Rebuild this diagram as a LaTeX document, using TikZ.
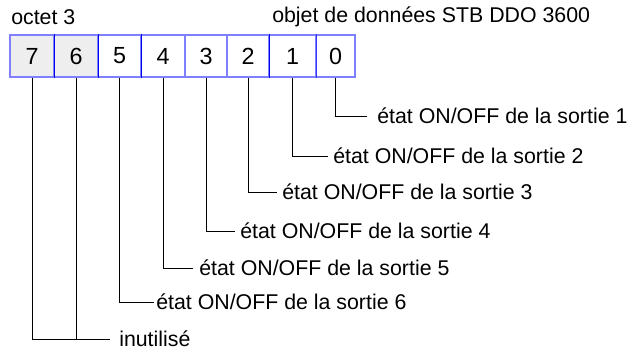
\documentclass[tikz,border=0pt]{standalone}
\usepackage{fontspec}
\setmainfont{Liberation Sans}
\definecolor{lightblue}{HTML}{8080FF}
\definecolor{darkblue}{HTML}{0000F0}
\definecolor{cellgray}{HTML}{EEEEEE}
\begin{document}
\begin{tikzpicture}[x=0.75pt,y=-0.75pt,
  txt/.style={font=\fontsize{16}{19}\selectfont, inner sep=0pt},
  lbl/.style={txt, anchor=west},
  cellbox/.style={draw=lightblue, line width=0.9pt, minimum height=31.5pt, inner sep=0pt, font=\fontsize{17.5}{20}\selectfont},
  conn/.style={draw=black, line width=0.6pt}]
\useasboundingbox (0,0) rectangle (637,353);
% title texts
\node[lbl] (oct) at (11,17) {octet 3};
\node[lbl] (obj) at (272,17) {objet de données STB DDO 3600};
% cells
\node[cellbox, fill=cellgray, minimum width=33pt] (c7) at (32,56) {7};
\node[cellbox, fill=cellgray, minimum width=33pt] (c6) at (76,56) {6};
\node[cellbox, minimum width=32.25pt] (c5) at (119.5,56) {5};
\node[cellbox, minimum width=33pt] (c4) at (163,56) {\raisebox{-2.5pt}{4}};
\node[cellbox, minimum width=31.5pt] (c3) at (206,56) {3};
\node[cellbox, minimum width=31.5pt] (c2) at (248,56) {2};
\node[cellbox, minimum width=35.25pt] (c1) at (292.5,56) {1};
\node[cellbox, minimum width=29.25pt] (c0) at (335.5,56) {0};
% darker separators
\foreach \c in {c7,c6,c5,c2}
  \draw[darkblue, line width=1pt] (\c.north east) -- (\c.south east);
\draw[blue!80, line width=0.9pt] (c1.north east) -- (c1.south east);
% labels
\node[lbl] (l1) at (377,116) {état ON/OFF de la sortie 1};
\node[lbl] (l2) at (333,156) {état ON/OFF de la sortie 2};
\node[lbl] (l3) at (282,192) {état ON/OFF de la sortie 3};
\node[lbl] (l4) at (240,231) {état ON/OFF de la sortie 4};
\node[lbl] (l5) at (199,268) {état ON/OFF de la sortie 5};
\node[lbl] (l6) at (156,302) {état ON/OFF de la sortie 6};
\node[lbl] (lu) at (119,339) {inutilisé};
% connectors
\coordinate (e1) at ([xshift=-7.5pt]l1.west);
\coordinate (e2) at ([xshift=-4pt]l2.west);
\coordinate (e3) at ([xshift=-4pt]l3.west);
\coordinate (e4) at ([xshift=-4pt]l4.west);
\coordinate (e5) at ([xshift=-4.5pt]l5.west);
\coordinate (e6) at ([xshift=-1.5pt]l6.west);
\coordinate (eu) at ([xshift=-6.5pt]lu.west);
\draw[conn] (c0.south) |- (e1);
\draw[conn] (c1.south) |- (e2);
\draw[conn] (c2.south) |- (e3);
\draw[conn] (c3.south) |- (e4);
\draw[conn] (c4.south) |- (e5);
\draw[conn] (c5.south) |- (e6);
\draw[conn] (c7.south) |- (eu);
\draw[conn] (c6.south) -- (c6.south |- eu);
\end{tikzpicture}
\end{document}
